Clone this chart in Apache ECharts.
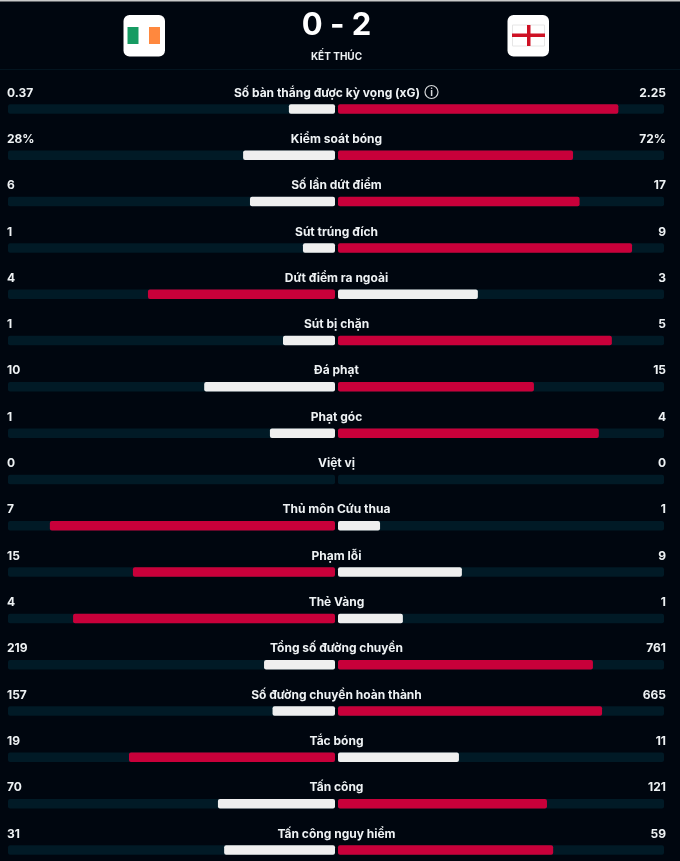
<!DOCTYPE html>
<html><head><meta charset="utf-8">
<style>html,body{margin:0;padding:0;background:#00060f}#c{width:680px;height:861px}</style>
<script src="https://cdn.jsdelivr.net/npm/echarts@6/dist/echarts.min.js"></script>
</head><body><div id="c"></div>
<script>
const categories = ['Số bàn thắng được kỳ vọng (xG)','Kiểm soát bóng','Số lần dứt điểm','Sút trúng đích','Dứt điểm ra ngoài','Sút bị chặn','Đá phạt','Phạt góc','Việt vị','Thủ môn Cứu thua','Phạm lỗi','Thẻ Vàng','Tổng số đường chuyền','Số đường chuyền hoàn thành','Tắc bóng','Tấn công','Tấn công nguy hiểm'];
const homeLabels = ['0.37','28%','6','1','4','1','10','1','0','7','15','4','219','157','19','70','31'];
const awayLabels = ['2.25','72%','17','9','3','5','15','4','0','1','9','1','761','665','11','121','59'];
const homeShare = [0.141,0.281,0.26,0.098,0.572,0.159,0.40,0.199,0,0.872,0.618,0.801,0.217,0.191,0.63,0.358,0.339];
const awayShare = [0.86,0.721,0.741,0.902,0.429,0.84,0.601,0.80,0,0.129,0.38,0.199,0.782,0.81,0.371,0.641,0.66];
const score = '0 - 2', status = 'KẾT THÚC';

const RED='#c8003a', WHITE='#efefef', TRACK='#011a26', BG='#00060f', TXT='#eef2f4';
const FONT='Inter, "Noto Sans", sans-serif';
const makeData=(own,other)=>own.map((v,i)=>({value:v,itemStyle:{color:v>other[i]?RED:WHITE}}));
const rowTop=85.8,rowH=787.3;
const grids=[{left:8,width:327,top:rowTop,height:rowH,outerBoundsMode:'none'},{left:338,width:326,top:rowTop,height:rowH,outerBoundsMode:'none'}];
const textBase={color:TXT,fontFamily:FONT,fontSize:12,fontWeight:700,verticalAlign:'bottom',padding:[0,0,10,0]};
const lab=(extra)=>Object.assign({show:true,inside:true,interval:0,hideOverlap:false,showMinLabel:true,showMaxLabel:true},textBase,extra);
const cat=(gridIndex,position,data,labelExtra)=>({type:'category',gridIndex,position,data,inverse:true,
  axisLine:{show:false,onZero:false},axisTick:{show:false},splitLine:{show:false},axisLabel:lab(labelExtra)});
const bar=(x,y,data)=>({type:'bar',xAxisIndex:x,yAxisIndex:y,data,barWidth:9.5,silent:true,animation:false,
  showBackground:true,backgroundStyle:{color:TRACK,borderRadius:2},itemStyle:{borderRadius:2}});
// the first row leaves room for its info icon, so its label sits left of centre
const centreLabels=categories.map((c,i)=>i===0?{value:c,textStyle:Object.assign({},textBase,{align:'center',padding:[0,19,10,0]})}:c);

const chart=echarts.init(document.getElementById('c'),null,{renderer:'canvas'});
chart.setOption({
  backgroundColor:BG,animation:false,
  grid:grids,
  xAxis:[
    {type:'value',gridIndex:0,min:0,max:1,inverse:true,show:false},
    {type:'value',gridIndex:1,min:0,max:1,show:false}
  ],
  yAxis:[
    cat(0,'left',homeLabels,{align:'left',margin:-1}),
    cat(0,'right',centreLabels,{align:'center',margin:1.5,inside:false}),
    cat(1,'right',awayLabels,{align:'right',margin:-2})
  ],
  series:[bar(0,0,makeData(homeShare,awayShare)),bar(1,2,makeData(awayShare,homeShare))],
  graphic:[
    {type:'rect',shape:{x:0,y:0,width:680,height:1.5},style:{fill:'#c9c9c9'}},
    {type:'rect',shape:{x:0,y:69,width:680,height:1},style:{fill:'#03141f'}},
    {type:'text',x:336.5,y:25.5,style:{text:score,fill:'#fff',font:'700 31px Inter, sans-serif',align:'center',verticalAlign:'middle'}},
    {type:'text',x:336.5,y:57,style:{text:status,fill:TXT,font:'700 10px '+FONT,align:'center',verticalAlign:'middle'}},
    {type:'rect',shape:{x:123.5,y:15,width:41.5,height:41.5,r:6},style:{fill:'#fff'}},
    {type:'rect',shape:{x:127.5,y:27,width:11,height:17},style:{fill:'#169b62'}},
    {type:'rect',shape:{x:149,y:27,width:11,height:17},style:{fill:'#ff883e'}},
    {type:'rect',shape:{x:507.5,y:15,width:41.5,height:41.5,r:6},style:{fill:'#fff'}},
    {type:'rect',shape:{x:512.5,y:25,width:32,height:21},style:{fill:'#fff',stroke:'#e6e6e6',lineWidth:1}},
    {type:'rect',shape:{x:512,y:33.5,width:33,height:3.5},style:{fill:'#ce1124'}},
    {type:'rect',shape:{x:527,y:25,width:3.5,height:21},style:{fill:'#ce1124'}},
    {type:'circle',shape:{cx:431.5,cy:92,r:6.5},style:{fill:'none',stroke:'#d5d8da',lineWidth:1.2}},
    {type:'text',x:431.5,y:92.5,style:{text:'i',fill:'#d5d8da',font:'700 10px '+FONT,align:'center',verticalAlign:'middle'}}
  ]
});
</script></body></html>
